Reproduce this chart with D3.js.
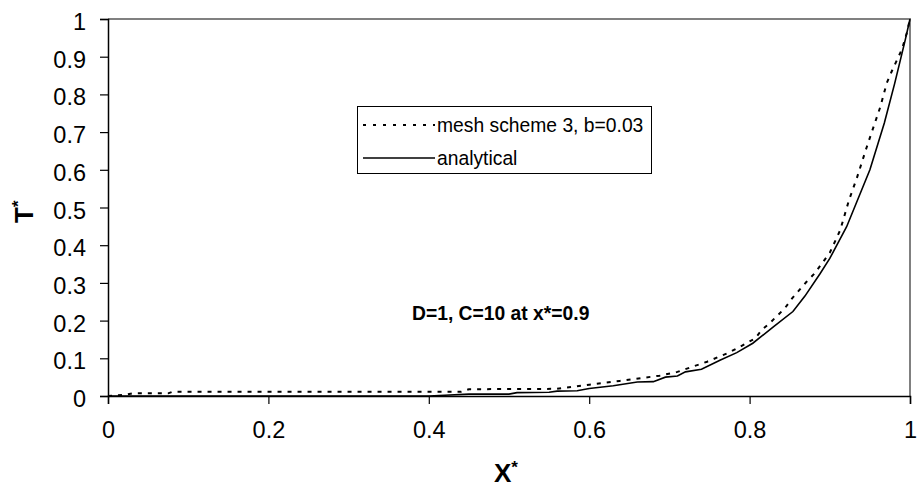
<!DOCTYPE html>
<html>
<head>
<meta charset="utf-8">
<script src="https://cdn.jsdelivr.net/npm/d3@7/dist/d3.min.js"></script>
<style>
  html, body { margin: 0; padding: 0; background: #fff; }
  svg { display: block; font-family: "Liberation Sans", Arial, sans-serif; }
</style>
</head>
<body>
<svg id="chart" width="917" height="490"></svg>
<script>
// Numerical solution (mesh scheme 3, b=0.03): x*, T*
const meshX = [0, 0.02, 0.03, 0.075, 0.08, 0.44, 0.45, 0.56, 0.60, 0.638, 0.688, 0.71, 0.747, 0.773, 0.784, 0.807, 0.815, 0.825, 0.844, 0.853, 0.871, 0.881, 0.90, 0.913, 0.924, 0.934, 0.946, 0.963, 0.971, 0.977, 0.99, 0.996, 1];
const meshT = [0, 0.003, 0.007, 0.007, 0.011, 0.011, 0.018, 0.019, 0.03, 0.04, 0.054, 0.064, 0.091, 0.114, 0.126, 0.153, 0.175, 0.193, 0.233, 0.259, 0.303, 0.325, 0.38, 0.44, 0.52, 0.58, 0.66, 0.767, 0.83, 0.86, 0.92, 0.963, 1];

// Analytical solution: x*, T*
const anaX = [0, 0.40, 0.42, 0.45, 0.50, 0.51, 0.55, 0.56, 0.585, 0.60, 0.63, 0.66, 0.68, 0.695, 0.71, 0.72, 0.74, 0.763, 0.784, 0.804, 0.83, 0.854, 0.869, 0.888, 0.90, 0.921, 0.95, 0.968, 0.981, 0.994, 1];
const anaT = [0, 0, 0.002, 0.005, 0.005, 0.009, 0.01, 0.013, 0.014, 0.02, 0.027, 0.037, 0.038, 0.05, 0.053, 0.064, 0.071, 0.095, 0.115, 0.14, 0.184, 0.224, 0.265, 0.325, 0.365, 0.449, 0.6, 0.724, 0.83, 0.944, 1];

const xTicks = [0, 0.2, 0.4, 0.6, 0.8, 1];
const yTicks = [0, 0.1, 0.2, 0.3, 0.4, 0.5, 0.6, 0.7, 0.8, 0.9, 1];

const svg = d3.select("#chart");
const plotL = 108, plotR = 910, plotT = 19, plotB = 396;

const x = d3.scaleLinear().domain([0, 1]).range([plotL, plotR]);
const y = d3.scaleLinear().domain([0, 1]).range([plotB, plotT]);

// plot-area frame (top and right edges)
svg.append("path")
  .attr("d", `M${plotL},${plotT}H${plotR}V${plotB}`)
  .attr("fill", "none").attr("stroke", "#808080").attr("stroke-width", 2);

// axes
const fmt = d => d === 0 || d === 1 ? String(d) : d3.format(".1f")(d);
const yAxis = svg.append("g").attr("transform", `translate(${plotL},0)`)
  .call(d3.axisLeft(y).tickValues(yTicks).tickFormat(fmt).tickSize(8).tickPadding(14));
const xAxis = svg.append("g").attr("transform", `translate(0,${plotB})`)
  .call(d3.axisBottom(x).tickValues(xTicks).tickFormat(fmt).tickSize(8).tickPadding(14));
[yAxis, xAxis].forEach(g => {
  g.select(".domain").attr("stroke", "#000").attr("stroke-width", 1.5);
  g.selectAll(".tick line").attr("stroke", "#000").attr("stroke-width", 1.2);
  g.selectAll(".tick text").attr("fill", "#000")
    .style("font-family", "'Liberation Sans', Arial, sans-serif").style("font-size", "23.5px");
});
xAxis.selectAll(".tick text").attr("y", 42).attr("dy", 0);
yAxis.selectAll(".tick text").attr("dy", 10.5);

// series
const line = d3.line().x(d => x(d[0])).y(d => y(d[1]));
const meshData = meshX.map((v, i) => [v, meshT[i]]);
const anaData = anaX.map((v, i) => [v, anaT[i]]);

svg.append("path").datum(anaData).attr("d", line)
  .attr("fill", "none").attr("stroke", "#000").attr("stroke-width", 1.6);
svg.append("path").datum(meshData).attr("d", line)
  .attr("fill", "none").attr("stroke", "#000").attr("stroke-width", 2)
  .attr("stroke-dasharray", "4,6");

// axis titles
svg.append("text").attr("x", 494).attr("y", 482)
  .attr("font-size", 26).attr("font-weight", "bold")
  .html('X<tspan dy="-9" font-size="17">*</tspan>');
svg.append("text").attr("transform", "translate(33,223) rotate(-90)")
  .attr("font-size", 26).attr("font-weight", "bold")
  .html('T<tspan dy="-9" font-size="17">*</tspan>');

// annotation
svg.append("text").attr("x", 412).attr("y", 320)
  .attr("font-size", 19.3).attr("font-weight", "bold")
  .text("D=1, C=10 at x*=0.9");

// legend
const lg = svg.append("g");
lg.append("rect").attr("x", 357.5).attr("y", 106.5).attr("width", 294).attr("height", 67)
  .attr("fill", "#fff").attr("stroke", "#000").attr("stroke-width", 1);
const items = [
  { label: "mesh scheme 3, b=0.03", dash: "3,7", w: 2, yy: 125 },
  { label: "analytical", dash: null, w: 1.6, yy: 158 }
];
items.forEach(it => {
  lg.append("line").attr("x1", 363).attr("x2", 435).attr("y1", it.yy).attr("y2", it.yy)
    .attr("stroke", "#000").attr("stroke-width", it.w)
    .attr("stroke-dasharray", it.dash);
  lg.append("text").attr("x", 437).attr("y", it.yy + 7).attr("font-size", 19.3).text(it.label);
});
</script>
</body>
</html>
